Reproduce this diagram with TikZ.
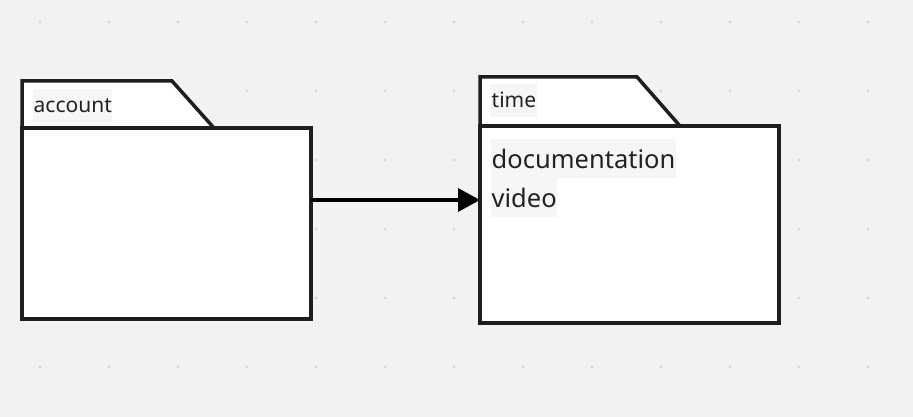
\documentclass[tikz,border=0pt]{standalone}
\usepackage{fontspec}
\setmainfont{Noto Sans}
\usetikzlibrary{arrows.meta}
\definecolor{bg}{HTML}{F2F2F4}
\definecolor{dotc}{HTML}{D8D8DC}
\definecolor{ink}{HTML}{1E1E1E}
\definecolor{txt}{HTML}{222222}
\definecolor{hl}{HTML}{F6F6F6}
\tikzset{
  pkgline/.style={draw=ink, line width=3.5pt, fill=white, line join=miter},
  pkgbody/.style={pkgline, rectangle, outer sep=0pt, inner sep=0pt, anchor=north west},
  pkglabel/.style={fill=hl, text=txt, anchor=base west, inner sep=0pt, inner xsep=0.5pt, text height=24pt, text depth=9pt, font=\fontsize{21}{24}\selectfont},
  pkgitem/.style={fill=hl, text=txt, anchor=base west, inner sep=0pt, inner xsep=0.5pt, text height=29pt, text depth=10pt, font=\fontsize{25.5}{29}\selectfont},
  conn/.style={draw=black, line width=3.5pt, -{Triangle[length=22pt,width=23pt]}}
}
\begin{document}
\begin{tikzpicture}[x=1pt,y=-1pt]
\fill[bg] (0,0) rectangle (913,417);
\useasboundingbox (0,0) rectangle (913,417);
\foreach \i in {0,...,12}{
  \foreach \yy in {22,91,160,229,298,367}{
    \fill[dotc] ({40+69*\i},\yy) circle (1.7pt);
  }
}
% account package
\draw[pkgline] (22,128) -- (22,81) -- (172,81) -- (214,128);
\node[pkgbody, minimum width=289pt, minimum height=191pt] (accbody) at (22,128) {};
\node[pkglabel] (acclabel) at (33,113) {account};
% time package
\draw[pkgline] (480,126) -- (480,77) -- (637,77) -- (680,126);
\node[pkgbody, minimum width=299pt, minimum height=197pt] (timebody) at (480,126) {};
\node[pkglabel] (timelabel) at (491,108) {time};
\node[pkgitem] (doc) at (491,168) {documentation};
\node[pkgitem] (video) at (491,207) {video};
% connector
\path (accbody.north east) ++(0,72) coordinate (s);
\draw[conn] (s) -- (s -| timebody.west);
\end{tikzpicture}
\end{document}
